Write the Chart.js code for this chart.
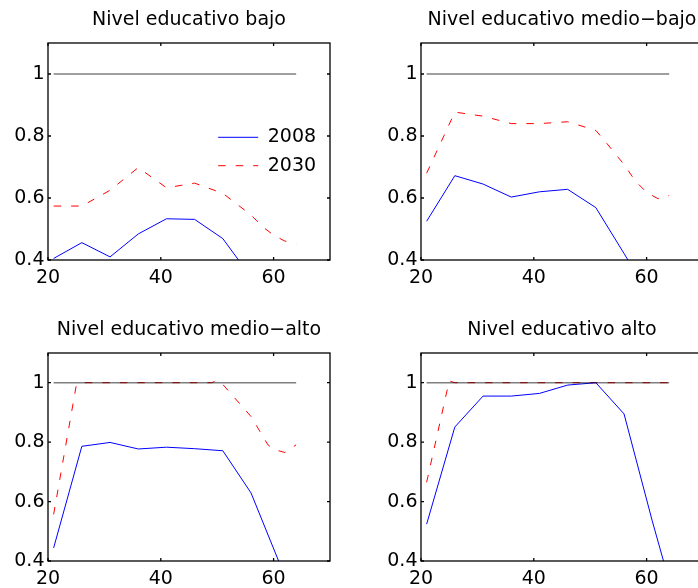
<!DOCTYPE html>
<html>
<head>
<meta charset="utf-8">
<script src="https://cdn.jsdelivr.net/npm/chart.js@4/dist/chart.umd.min.js"></script>
<style>
  html, body { margin: 0; padding: 0; width: 698px; height: 588px; overflow: hidden; background: #fff; position: relative; }
  canvas { position: absolute; }
</style>
</head>
<body>
<canvas id="c1" width="350" height="294" style="left:0px;top:0px;width:350px;height:294px"></canvas>
<canvas id="c2" width="350" height="294" style="left:373px;top:0px;width:350px;height:294px"></canvas>
<canvas id="c3" width="350" height="285" style="left:0px;top:310px;width:350px;height:285px"></canvas>
<canvas id="c4" width="350" height="285" style="left:373px;top:310px;width:350px;height:285px"></canvas>
<script>
// Axis ticks and labels
const xTicks = [20, 40, 60];
const yTicks = [0.4, 0.6, 0.8, 1];
const titulos = ['Nivel educativo bajo', 'Nivel educativo medio\u2212bajo', 'Nivel educativo medio\u2212alto', 'Nivel educativo alto'];
const series = ['2008', '2030'];

// Reference level (ratio = 1)
const refEdad = [21, 64];
const refValor = [1, 1];

// Nivel educativo bajo
const bajoEdad2008 = [21, 26, 31, 36, 41, 46, 51, 56];
const bajo2008 = [0.405, 0.456, 0.410, 0.484, 0.533, 0.531, 0.469, 0.345];
const bajoEdad2030 = [21, 26, 31, 36, 41, 46, 51, 56, 58, 60, 62, 64];
const bajo2030 = [0.574, 0.574, 0.625, 0.698, 0.633, 0.648, 0.615, 0.545, 0.508, 0.480, 0.461, 0.453];

// Nivel educativo medio-bajo
const medBajoEdad2008 = [21, 26, 31, 36, 41, 46, 51, 56, 61];
const medBajo2008 = [0.525, 0.672, 0.645, 0.603, 0.620, 0.628, 0.569, 0.421, 0.270];
const medBajoEdad2030 = [21, 26, 31, 36, 41, 46, 51, 53, 56, 58, 60, 62, 64];
const medBajo2030 = [0.680, 0.877, 0.864, 0.840, 0.840, 0.846, 0.818, 0.775, 0.708, 0.655, 0.618, 0.598, 0.608];

// Nivel educativo medio-alto
const medAltoEdad2008 = [21, 26, 31, 36, 41, 46, 51, 56, 61];
const medAlto2008 = [0.444, 0.786, 0.799, 0.777, 0.783, 0.778, 0.771, 0.629, 0.395];
const medAltoEdad2030 = [21, 25, 26, 31, 36, 41, 46, 49, 50, 51, 56, 59, 60, 62, 64];
const medAlto2030 = [0.557, 0.990, 1.000, 1.000, 1.000, 1.000, 1.000, 1.000, 1.007, 0.994, 0.886, 0.791, 0.776, 0.765, 0.791];

// Nivel educativo alto
const altoEdad2008 = [21, 26, 31, 36, 41, 46, 51, 56, 61, 66];
const alto2008 = [0.524, 0.851, 0.955, 0.955, 0.964, 0.992, 1.000, 0.895, 0.535, 0.197];
const altoEdad2030 = [21, 25, 26, 31, 36, 41, 46, 51, 56, 61, 64];
const alto2030 = [0.665, 1.006, 1.000, 1.000, 1.000, 1.000, 1.000, 1.000, 1.000, 1.000, 1.000];

Chart.defaults.font.family = "'DejaVu Sans', sans-serif";
Chart.defaults.font.size = 19;
Chart.defaults.color = '#000';

const pts = (edades, valores) => edades.map((x, i) => ({ x: x, y: valores[i] }));

// Box around the plot area with inward tick marks on all four sides
const marco = {
  id: 'marco',
  afterDatasetsDraw(chart) {
    const { ctx, chartArea: a, scales: { x, y } } = chart;
    ctx.save();
    ctx.strokeStyle = '#000';
    ctx.lineWidth = 1.3;
    ctx.beginPath();
    xTicks.forEach(v => {
      const px = x.getPixelForValue(v);
      ctx.moveTo(px, a.bottom); ctx.lineTo(px, a.bottom - 3);
      ctx.moveTo(px, a.top); ctx.lineTo(px, a.top + 3);
    });
    yTicks.forEach(v => {
      const py = y.getPixelForValue(v);
      ctx.moveTo(a.left, py); ctx.lineTo(a.left + 3, py);
      ctx.moveTo(a.right, py); ctx.lineTo(a.right - 3, py);
    });
    ctx.stroke();
    ctx.strokeRect(a.left, a.top, a.right - a.left, a.bottom - a.top);
    ctx.restore();
  }
};

// Places the legend inside the plot area, towards the right
const posLeyenda = {
  id: 'posLeyenda',
  beforeDraw(chart) {
    const lg = chart.legend;
    if (!lg || !lg.options.display) return;
    const a = chart.chartArea;
    lg.left = a.left + 160.8;
    lg.right = lg.left + 140;
    lg.top = a.top;
    lg.bottom = a.bottom;
  }
};

const paneles = [
  { id: 'c1', titulo: titulos[0], e08: bajoEdad2008, v08: bajo2008, e30: bajoEdad2030, v30: bajo2030, leyenda: true },
  { id: 'c2', titulo: titulos[1], e08: medBajoEdad2008, v08: medBajo2008, e30: medBajoEdad2030, v30: medBajo2030, leyenda: false },
  { id: 'c3', titulo: titulos[2], e08: medAltoEdad2008, v08: medAlto2008, e30: medAltoEdad2030, v30: medAlto2030, leyenda: false },
  { id: 'c4', titulo: titulos[3], e08: altoEdad2008, v08: alto2008, e30: altoEdad2030, v30: alto2030, leyenda: false }
];

paneles.forEach(p => {
  new Chart(document.getElementById(p.id), {
    type: 'line',
    data: {
      datasets: [
        { label: series[0], data: pts(p.e08, p.v08), borderColor: '#0000ff', backgroundColor: '#0000ff',
          borderWidth: 1, pointRadius: 0, tension: 0, order: 1 },
        { label: series[1], data: pts(p.e30, p.v30), borderColor: '#ff0000', backgroundColor: '#ff0000',
          borderWidth: 1, borderDash: [7.5, 10], pointRadius: 0, tension: 0, order: 2 },
        { label: 'ref', data: pts(refEdad, refValor), borderColor: 'rgba(0,0,0,0.5)', backgroundColor: 'rgba(0,0,0,0.5)',
          borderWidth: 1.5, pointRadius: 0, tension: 0, order: 0 }
      ]
    },
    options: {
      responsive: false,
      animation: false,
      events: [],
      layout: { padding: { left: 0, right: 20, top: 0, bottom: 0 } },
      plugins: {
        title: {
          display: true, text: p.titulo, fullSize: false, color: '#000',
          font: { size: 19, lineHeight: 1.2, weight: 'normal' },
          padding: { top: 8.7, bottom: 11.5 }
        },
        legend: {
          display: p.leyenda,
          position: 'chartArea',
          align: 'center',
          labels: {
            color: '#000',
            font: { size: 19 },
            usePointStyle: true,
            pointStyle: 'line',
            pointStyleWidth: 40,
            padding: 9.4,
            filter: item => item.datasetIndex < 2,
            generateLabels(chart) {
              const items = Chart.defaults.plugins.legend.labels.generateLabels(chart);
              items.forEach(it => {
                const ds = chart.data.datasets[it.datasetIndex];
                it.lineDash = ds.borderDash || [];
                it.strokeStyle = ds.borderColor;
                it.lineWidth = ds.borderWidth;
              });
              return items;
            }
          }
        },
        tooltip: { enabled: false }
      },
      scales: {
        x: {
          type: 'linear', min: 20, max: 70,
          grid: { display: false, drawTicks: false },
          border: { display: false },
          ticks: { padding: 7, color: '#000', maxRotation: 0, callback: v => String(v) },
          afterBuildTicks: s => { s.ticks = xTicks.map(v => ({ value: v })); },
          afterFit: s => { s.height = 34; }
        },
        y: {
          type: 'linear', min: 0.4, max: 1.1,
          grid: { display: false, drawTicks: false },
          border: { display: false },
          ticks: { padding: 3.5, color: '#000', callback: v => String(Math.round(v * 10) / 10) },
          afterBuildTicks: s => { s.ticks = yTicks.map(v => ({ value: v })); },
          afterFit: s => { s.width = 48; }
        }
      }
    },
    plugins: [marco, posLeyenda]
  });
});
</script>
</body>
</html>
